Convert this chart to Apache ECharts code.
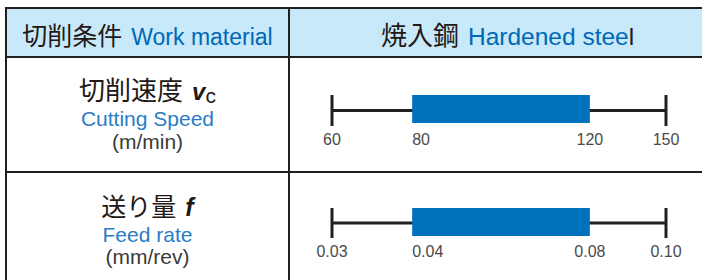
<!DOCTYPE html>
<html>
<head>
<meta charset="utf-8">
<script src="https://cdn.jsdelivr.net/npm/echarts@6/dist/echarts.min.js"></script>
<style>
  html, body { margin: 0; padding: 0; background: #fff; }
  #page { position: relative; width: 702px; height: 280px; overflow: hidden; }
  .ln { position: absolute; background: #231f20; }
  .txt { position: absolute; white-space: nowrap; text-align: center; }
  .jp { font-family: "Noto Sans CJK JP", sans-serif; color: #231815; }
  .en { font-family: "Liberation Sans", Arial, sans-serif; color: #0068b7; }
  .en2 { font-family: "Liberation Sans", Arial, sans-serif; color: #2a7cc6; }
  .unit { font-family: "Liberation Sans", Arial, sans-serif; color: #3a3a3a; }
  #chart { position: absolute; left: 0; top: 0; width: 702px; height: 280px; }
</style>
</head>
<body>
<div id="page">
  <!-- 表头底色 -->
  <div style="position:absolute;left:7px;top:9px;width:695px;height:47px;background:#c7e9f9;"></div>
  <!-- 表格线 -->
  <div class="ln" style="left:5px;top:7px;width:697px;height:2px;"></div>
  <div class="ln" style="left:5px;top:7px;width:2px;height:273px;"></div>
  <div class="ln" style="left:288px;top:7px;width:2px;height:273px;"></div>
  <div class="ln" style="left:5px;top:56px;width:697px;height:2px;"></div>
  <div class="ln" style="left:5px;top:171px;width:697px;height:2px;"></div>

  <!-- 表头 -->
  <div class="txt" style="left:7px;width:281px;top:20px;line-height:28px;height:28px;">
    <span class="jp" style="font-size:25px;">切削条件</span><span class="en" style="font-size:23px;margin-left:9px;">Work material</span>
  </div>
  <div class="txt" style="left:381px;top:20px;line-height:28px;height:28px;text-align:left;">
    <span class="jp" style="font-size:26px;">焼入鋼</span><span class="en" style="font-size:24.5px;margin-left:9px;">Hardened stee<span style="color:#231815;">l</span></span>
  </div>

  <!-- 第一行：切削速度 -->
  <div class="txt" style="left:7px;width:281px;top:76px;line-height:26px;height:26px;">
    <span class="jp" style="font-size:26px;">切削速度</span><span class="unit" style="font-size:24px;margin-left:9px;color:#231815;font-style:italic;font-weight:bold;">v</span><span class="unit" style="font-size:21px;color:#231815;position:relative;top:3px;">c</span>
  </div>
  <div class="txt en2" style="left:7px;width:281px;top:108px;line-height:21px;height:21px;font-size:21px;">Cutting Speed</div>
  <div class="txt unit" style="left:7px;width:281px;top:131px;line-height:21px;height:21px;font-size:21px;">(m/min)</div>

  <!-- 第二行：送り量 -->
  <div class="txt" style="left:7px;width:281px;top:193px;line-height:25px;height:25px;">
    <span class="jp" style="font-size:25px;">送り量</span><span class="unit" style="font-size:25px;margin-left:9px;color:#231815;font-style:italic;font-weight:bold;">f</span>
  </div>
  <div class="txt en2" style="left:7px;width:281px;top:224px;line-height:21px;height:21px;font-size:21px;">Feed rate</div>
  <div class="txt unit" style="left:7px;width:281px;top:246px;line-height:21px;height:21px;font-size:21px;">(mm/rev)</div>

  <div id="chart"></div>
</div>

<script>
// 数据：最小值、推荐下限、推荐上限、最大值
const speedTicks = [60, 80, 120, 150];
const speedLabels = ["60", "80", "120", "150"];
const feedTicks = [0.03, 0.04, 0.08, 0.10];
const feedLabels = ["0.03", "0.04", "0.08", "0.10"];

// 示意刻度：原图各点不按线性比例排布，这里是每个刻度在轴上的位置 (0-100)
const scaleStops = [0, 24, 77.2, 100];

function toPos(v, ticks) {
  for (let i = 1; i < ticks.length; i++) {
    if (v <= ticks[i]) {
      let t = (v - ticks[i - 1]) / (ticks[i] - ticks[i - 1]);
      return scaleStops[i - 1] + t * (scaleStops[i] - scaleStops[i - 1]);
    }
  }
  return scaleStops[scaleStops.length - 1];
}

const rows = [
  { ticks: speedTicks, labels: speedLabels },
  { ticks: feedTicks, labels: feedLabels },
];

let chart = echarts.init(document.getElementById("chart"), null, { renderer: "svg" });

const labelStyle = {
  color: "#4a4a4a",
  fontFamily: "Liberation Sans",
  fontSize: 16,
  margin: 5,
};

let xAxis = [];
let yAxis = [];
let series = [];
rows.forEach(function (row, r) {
  let pos = row.ticks.map(function (v) { return toPos(v, row.ticks); });
  let fmt = function (val) {
    for (let i = 0; i < pos.length; i++) {
      if (Math.abs(pos[i] - val) < 1e-6) return row.labels[i];
    }
    return "";
  };
  let base = {
    gridIndex: r,
    type: "value",
    min: 0,
    max: 100,
    position: "bottom",
    axisLine: { show: false },
    axisTick: { show: false },
    splitLine: { show: false },
  };
  // 两端与上限的标签居中
  xAxis.push(Object.assign({}, base, {
    axisLabel: Object.assign({}, labelStyle, {
      customValues: [pos[0], pos[2], pos[3]],
      formatter: fmt,
    }),
  }));
  // 下限的标签左对齐
  xAxis.push(Object.assign({}, base, {
    axisLabel: Object.assign({}, labelStyle, {
      customValues: [pos[1]],
      formatter: fmt,
      align: "left",
    }),
  }));
  yAxis.push({ gridIndex: r, type: "value", min: 0, max: 1, show: false });
  series.push({
    type: "custom",
    xAxisIndex: r * 2,
    yAxisIndex: r,
    silent: true,
    data: [pos],
    renderItem: function (params, api) {
      let p0 = api.coord([api.value(0), 1]);
      let p1 = api.coord([api.value(1), 1]);
      let p2 = api.coord([api.value(2), 1]);
      let p3 = api.coord([api.value(3), 1]);
      let bottom = api.coord([0, 0])[1];
      let mid = api.coord([0, 0.5])[1];
      let top = p0[1];
      let lineStyle = { stroke: "#231f20", lineWidth: 3 };
      return {
        type: "group",
        children: [
          { type: "line", shape: { x1: p0[0], y1: mid, x2: p3[0], y2: mid }, style: lineStyle },
          { type: "line", shape: { x1: p0[0], y1: top, x2: p0[0], y2: bottom }, style: lineStyle },
          { type: "line", shape: { x1: p3[0], y1: top, x2: p3[0], y2: bottom }, style: lineStyle },
          { type: "rect", shape: { x: p1[0], y: top, width: p2[0] - p1[0], height: 28 }, style: { fill: "#0071bc" } },
        ],
      };
    },
  });
});

chart.setOption({
  animation: false,
  backgroundColor: "transparent",
  grid: [
    { left: 332, width: 334, top: 95, height: 31 },
    { left: 332, width: 334, top: 208, height: 30 },
  ],
  xAxis: xAxis,
  yAxis: yAxis,
  series: series,
});
</script>
</body>
</html>
